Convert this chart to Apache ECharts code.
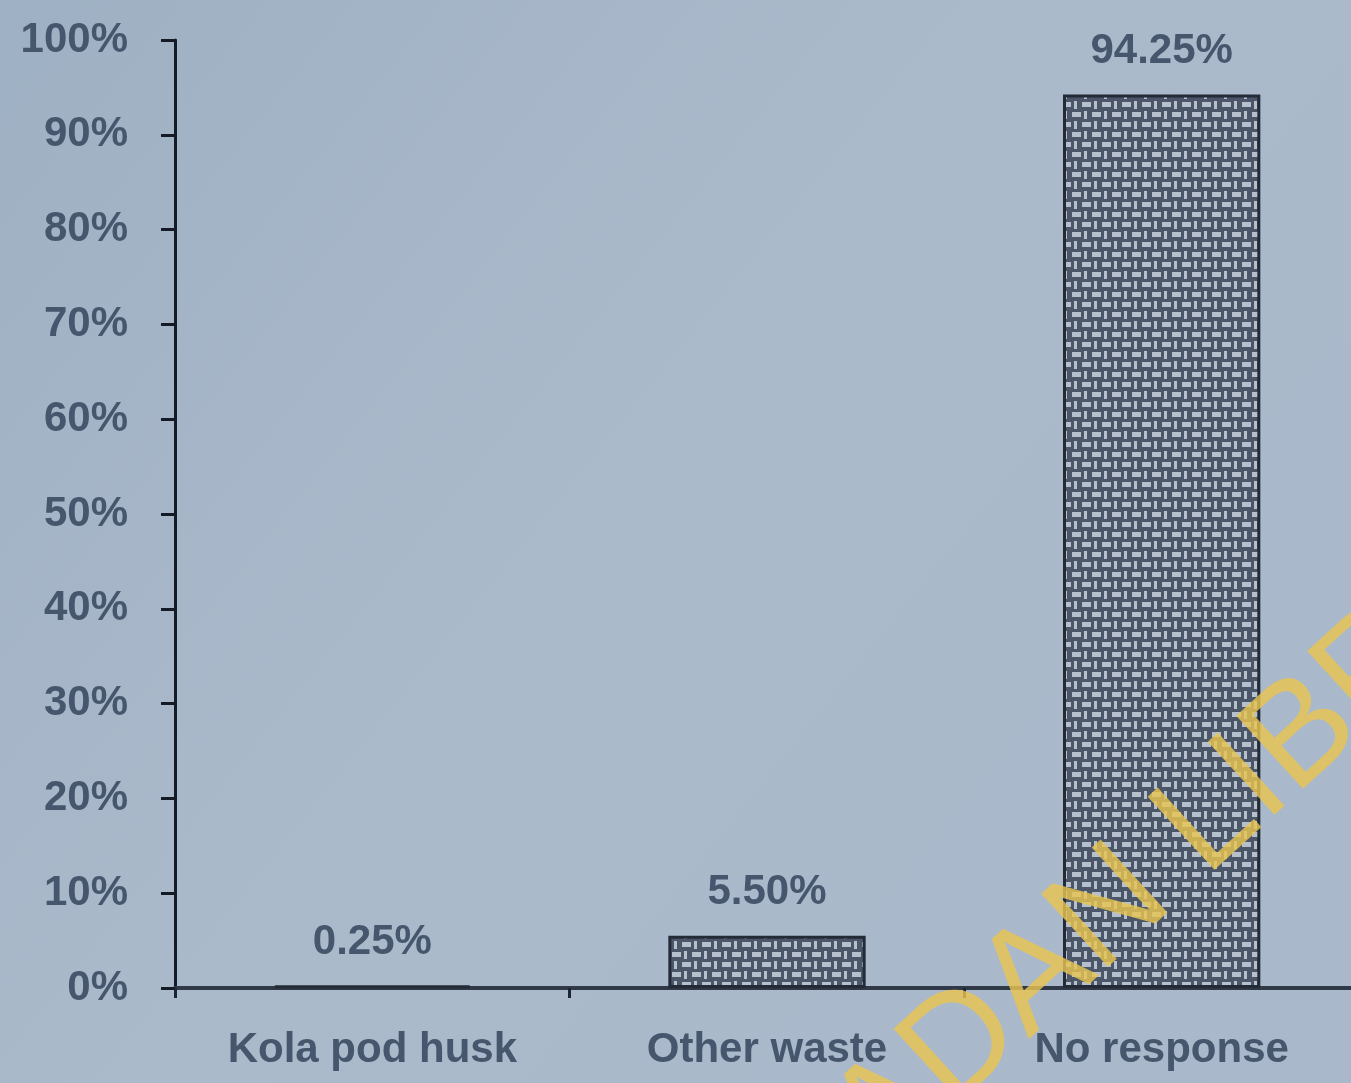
<!DOCTYPE html>
<html>
<head>
<meta charset="utf-8">
<title>Kola pod husk responses</title>
<script src="https://cdn.jsdelivr.net/npm/echarts@6/dist/echarts.min.js"></script>
<style>
  html, body { margin: 0; padding: 0; }
  #chart { width: 1351px; height: 1083px; }
</style>
</head>
<body>
<div id="chart"></div>
<script>
// Response categories and their shares (percent of respondents)
const categories = ['Kola pod husk', 'Other waste', 'No response'];
const shares = [0.25, 5.50, 94.25];

// Y axis scale
const yMin = 0;
const yMax = 100;
const yStep = 10;

// Basket-weave fill used for the bars
function weaveTile() {
  const c = document.createElement('canvas');
  c.width = 20; c.height = 20;
  const g = c.getContext('2d');
  g.fillStyle = '#4b5668';
  g.fillRect(0, 0, 20, 20);
  g.fillStyle = '#b6c0cd';
  g.fillRect(2, 2, 9, 5);
  g.fillRect(14, 1, 3, 8);
  g.fillRect(12, 12, 9, 5);
  g.fillRect(0, 12, 1, 5);
  g.fillRect(4, 11, 3, 8);
  return c;
}

const chart = echarts.init(document.getElementById('chart'), null, { renderer: 'canvas' });

const labelFont = {
  fontFamily: '"Liberation Sans", Arial, sans-serif',
  fontWeight: 'bold',
  fontSize: 42,
  color: '#46566c'
};

chart.setOption({
  animation: false,
  backgroundColor: {
    type: 'linear', x: 0, y: 0, x2: 1, y2: 1,
    colorStops: [
      { offset: 0, color: '#9eb0c3' },
      { offset: 0.45, color: '#abbacb' },
      { offset: 1, color: '#a9b8ca' }
    ]
  },
  grid: { left: 175, right: -8, top: 40, bottom: 95, containLabel: false, outerBoundsMode: 'none' },
  xAxis: {
    type: 'category',
    data: categories,
    axisLine: { show: true, lineStyle: { color: '#2f3948', width: 4 } },
    axisTick: { show: true, length: 10, lineStyle: { color: '#1d2532', width: 3 } },
    axisLabel: Object.assign({ margin: 41, interval: 0, hideOverlap: false }, labelFont)
  },
  yAxis: {
    type: 'value',
    min: yMin,
    max: yMax,
    interval: yStep,
    axisLine: { show: true, lineStyle: { color: '#141b27', width: 3 } },
    axisTick: { show: true, length: 14, lineStyle: { color: '#141b27', width: 3 } },
    splitLine: { show: false },
    axisLabel: Object.assign({ margin: 47, formatter: '{value}%' }, labelFont)
  },
  series: [{
    type: 'bar',
    data: shares,
    barWidth: '50%',
    itemStyle: {
      color: { image: weaveTile(), repeat: 'repeat' },
      borderColor: '#232b37',
      borderWidth: 3
    },
    label: Object.assign({
      show: true,
      position: 'top',
      distance: 22,
      formatter: p => p.value.toFixed(2) + '%'
    }, labelFont)
  }],
  graphic: [{
    type: 'text',
    x: 802,
    y: 1290,
    z: 100,
    rotation: 0.74,
    silent: true,
    style: {
      text: 'IBADAN LIBRARY',
      fontFamily: '"Liberation Sans", Arial, sans-serif',
      fontSize: 144,
      fill: 'rgba(232, 196, 82, 0.82)',
      textAlign: 'left',
      textVerticalAlign: 'bottom'
    }
  }]
});
</script>
</body>
</html>
